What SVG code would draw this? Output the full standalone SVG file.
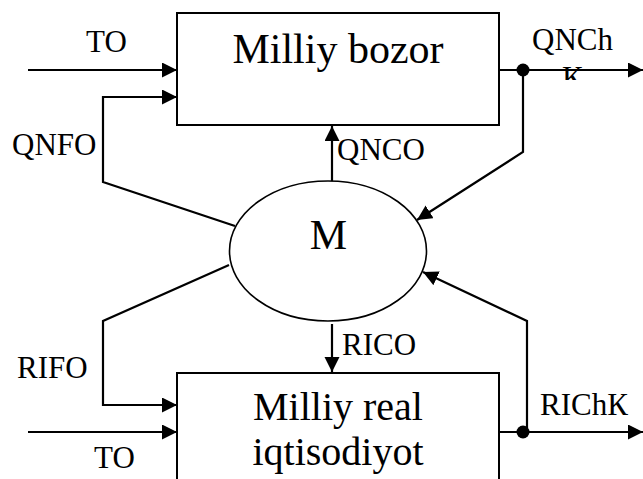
<svg xmlns="http://www.w3.org/2000/svg" width="643" height="479" viewBox="0 0 643 479">
<style>
.box{fill:#fff;stroke:#000;stroke-width:2}
.ell{fill:#fff;stroke:#000;stroke-width:1.6}
.ln{fill:none;stroke:#000;stroke-width:2.2}
.arr{marker-end:url(#ah)}
text{font-family:"Liberation Serif","Times New Roman",serif;fill:#000}
.lbl{font-size:31px}
.big{font-size:42px;text-anchor:middle}
.mid{font-size:40px;text-anchor:middle}
</style>
<defs>
<marker id="ah" markerUnits="userSpaceOnUse" markerWidth="16" markerHeight="16" refX="15" refY="7.5" orient="auto">
<path d="M0,0 L15,7.5 L0,15 z" fill="#000"/>
</marker>
<clipPath id="kc"><rect x="550" y="60" width="50" height="20"/></clipPath>
</defs>
<g id="connectors">
<line class="ln arr" x1="28" y1="70" x2="177" y2="70"/>
<polyline class="ln arr" points="235,226 103,182 103,97 177,97"/>
<line class="ln arr" x1="332" y1="182" x2="332" y2="126"/>
<line class="ln arr" x1="332" y1="324" x2="332" y2="372"/>
<polyline class="ln arr" points="229,265 103,321 103,405 177,405"/>
<line class="ln arr" x1="28" y1="432" x2="177" y2="432"/>
<line class="ln arr" x1="500" y1="70" x2="643" y2="70"/>
<polyline class="ln arr" points="523,70 523,152 417,220"/>
<line class="ln arr" x1="500" y1="432" x2="643" y2="432"/>
<polyline class="ln arr" points="527,432 527,321 423,272"/>
<circle cx="523" cy="70" r="6.5" fill="#000"/>
<circle cx="523" cy="432" r="6.5" fill="#000"/>
</g>
<g id="milliy-bozor">
<rect class="box" x="177" y="13" width="322" height="112"/>
<text class="big" x="338" y="63">Milliy bozor</text>
</g>
<g id="milliy-real">
<rect class="box" x="177" y="373" width="322" height="120"/>
<text class="mid" x="338" y="420">Milliy real</text>
<text class="mid" x="338" y="465">iqtisodiyot</text>
</g>
<g id="M">
<ellipse class="ell" cx="328" cy="251" rx="98.5" ry="70"/>
<text class="big" x="328.5" y="249">M</text>
</g>
<g id="labels">
<text class="lbl" x="86" y="52">TO</text>
<text class="lbl" x="12" y="155">QNFO</text>
<text class="lbl" x="337" y="160">QNCO</text>
<text class="lbl" x="342" y="355">RICO</text>
<text class="lbl" x="17" y="378">RIFO</text>
<text class="lbl" x="94" y="468">TO</text>
<text class="lbl" x="532" y="50">QNCh</text>
<text class="lbl" x="562" y="88" clip-path="url(#kc)">К</text>
<text class="lbl" x="540" y="415">RIChК</text>
</g>
</svg>
